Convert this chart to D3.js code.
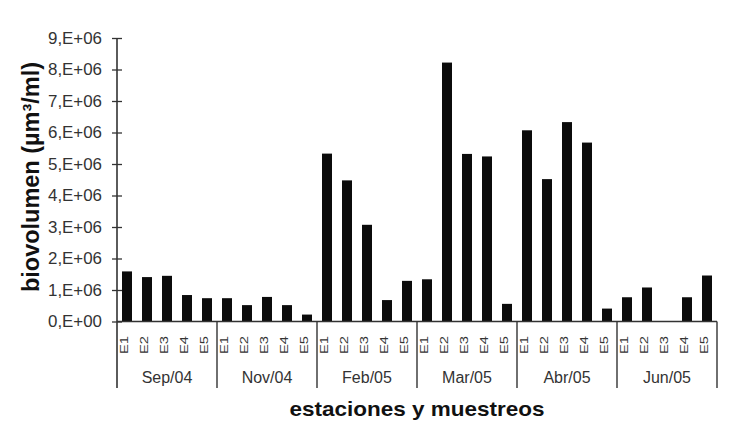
<!DOCTYPE html>
<html>
<head>
<meta charset="utf-8">
<script src="https://cdn.jsdelivr.net/npm/d3@7"></script>
<style>
  body { margin: 0; background: #fff; }
  svg { display: block; font-family: "Liberation Sans", Arial, sans-serif; }
</style>
</head>
<body>
<script>
// muestreos y estaciones
var months = ["Sep/04", "Nov/04", "Feb/05", "Mar/05", "Abr/05", "Jun/05"];
var stations = ["E1", "E2", "E3", "E4", "E5"];

// biovolumen (um3/ml)
var sep04 = [1.59e6, 1.41e6, 1.45e6, 0.84e6, 0.74e6];
var nov04 = [0.74e6, 0.52e6, 0.78e6, 0.52e6, 0.22e6];
var feb05 = [5.33e6, 4.48e6, 3.07e6, 0.68e6, 1.29e6];
var mar05 = [1.34e6, 8.22e6, 5.32e6, 5.24e6, 0.56e6];
var abr05 = [6.07e6, 4.52e6, 6.33e6, 5.68e6, 0.41e6];
var jun05 = [0.77e6, 1.08e6, 0, 0.77e6, 1.46e6];

var yTicks = [0, 1e6, 2e6, 3e6, 4e6, 5e6, 6e6, 7e6, 8e6, 9e6];
var yTickLabels = ["0,E+00", "1,E+06", "2,E+06", "3,E+06", "4,E+06",
                   "5,E+06", "6,E+06", "7,E+06", "8,E+06", "9,E+06"];

var series = [sep04, nov04, feb05, mar05, abr05, jun05];
var data = [];
months.forEach(function(m, i) {
  stations.forEach(function(s, j) {
    data.push({month: m, station: s, key: m + "|" + s, value: series[i][j]});
  });
});

var width = 734, height = 443;
var svg = d3.select("body").append("svg")
  .attr("width", width)
  .attr("height", height);

var x0 = 117, x1 = 717, yBase = 321.5, yTop = 38;

var x = d3.scaleBand()
  .domain(data.map(function(d) { return d.key; }))
  .range([x0, x1])
  .paddingInner(0.5)
  .paddingOuter(0.25);

var xGroup = d3.scaleBand()
  .domain(months)
  .range([x0, x1]);

var y = d3.scaleLinear()
  .domain([0, 9e6])
  .range([yBase, yTop]);

// bars
svg.selectAll(".bar")
  .data(data)
  .enter().append("rect")
  .attr("class", "bar")
  .attr("x", function(d) { return x(d.key); })
  .attr("width", x.bandwidth())
  .attr("y", function(d) { return y(d.value); })
  .attr("height", function(d) { return yBase - y(d.value); })
  .style("fill", "#0b0b0b");

// y axis
var yAxis = d3.axisLeft(y)
  .tickValues(yTicks)
  .tickFormat(function(d, i) { return yTickLabels[i]; })
  .tickSize(5)
  .tickSizeOuter(0)
  .tickPadding(10);

var gy = svg.append("g")
  .attr("transform", "translate(" + x0 + ",0)")
  .call(yAxis);
gy.select(".domain").remove();
gy.selectAll(".tick line")
  .attr("x1", -5).attr("x2", 5)
  .attr("stroke", "#333").attr("stroke-width", 1.3);
gy.selectAll(".tick text")
  .attr("fill", "#333")
  .style("font-size", "16px")
  .attr("textLength", 54)
  .attr("lengthAdjust", "spacingAndGlyphs");

// vertical axis line, running down through the category area
svg.append("line")
  .attr("x1", x0).attr("x2", x0)
  .attr("y1", yTop).attr("y2", 388)
  .attr("stroke", "#333").attr("stroke-width", 1.6);

// baseline
svg.append("line")
  .attr("x1", x0).attr("x2", x1)
  .attr("y1", yBase).attr("y2", yBase)
  .attr("stroke", "#333").attr("stroke-width", 1.4);

// group separators
svg.selectAll(".sep")
  .data(months)
  .enter().append("line")
  .attr("class", "sep")
  .attr("x1", function(d) { return xGroup(d) + xGroup.bandwidth(); })
  .attr("x2", function(d) { return xGroup(d) + xGroup.bandwidth(); })
  .attr("y1", yBase).attr("y2", 388)
  .attr("stroke", "#333").attr("stroke-width", 1.4);

// station labels
svg.selectAll(".st")
  .data(data)
  .enter().append("text")
  .attr("class", "st")
  .attr("transform", function(d) {
    return "translate(" + (x(d.key) + x.bandwidth() / 2 + 0.5) + ",354) rotate(-90)";
  })
  .attr("textLength", 18)
  .attr("lengthAdjust", "spacingAndGlyphs")
  .style("font-size", "11px")
  .attr("fill", "#333")
  .text(function(d) { return d.station; });

// month labels
svg.selectAll(".mo")
  .data(months)
  .enter().append("text")
  .attr("class", "mo")
  .attr("x", function(d) { return xGroup(d) + xGroup.bandwidth() / 2; })
  .attr("y", 383)
  .attr("text-anchor", "middle")
  .style("font-size", "16px")
  .attr("fill", "#333")
  .text(function(d) { return d; });

// axis titles
svg.append("text")
  .attr("x", 417)
  .attr("y", 416)
  .attr("text-anchor", "middle")
  .style("font-size", "21px")
  .style("font-weight", "bold")
  .attr("textLength", 255)
  .attr("lengthAdjust", "spacingAndGlyphs")
  .attr("fill", "#111")
  .text("estaciones y muestreos");

svg.append("text")
  .attr("transform", "translate(39,177) rotate(-90)")
  .attr("text-anchor", "middle")
  .style("font-size", "23px")
  .style("font-weight", "bold")
  .attr("textLength", 230)
  .attr("lengthAdjust", "spacingAndGlyphs")
  .attr("fill", "#111")
  .text("biovolumen (µm³/ml)");
</script>
</body>
</html>
